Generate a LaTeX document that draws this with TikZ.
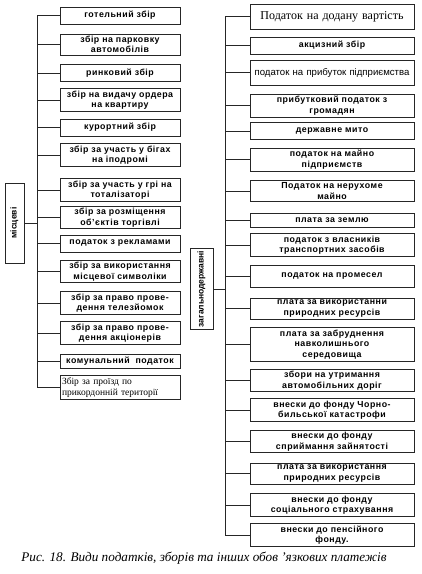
\documentclass[tikz,border=0pt]{standalone}
\usepackage{fontspec}
\setmainfont{Liberation Serif}
\setsansfont{Liberation Sans}

\begin{document}
\begin{tikzpicture}[x=1pt, y=-1pt,
  box/.style={draw=black!85, line width=0.8pt, align=center, text width=116pt, minimum width=120pt, minimum height=17pt, inner sep=2pt, font=\sffamily\bfseries\fontsize{8.8}{10.5}\selectfont\addfontfeature{LetterSpace=6}},
  rbox/.style={box, text width=160pt, minimum width=164pt},
  side/.style={draw=black!85, line width=0.8pt, rotate=90, inner sep=1pt, font=\sffamily\bfseries\fontsize{8.5}{10}\selectfont},
  link/.style={line width=0.8pt, black!85}
]
\useasboundingbox (0,0) rectangle (422,574);
\coordinate (lbus) at (37,0);
\coordinate (rbus) at (225,0);
\node[side, minimum width=80pt, minimum height=19pt] (local) at (14.5,223) {місцеві};
\node[side, minimum width=81pt, minimum height=23pt] (state) at (201.5,289) {загальнодержавні};
\node[box] (hotel) at (120,15.5) {готельний збір};
\node[box] (parking) at (120,44.5) {збір на парковку\\автомобілів};
\node[box] (market) at (120,73) {ринковий збір};
\node[box] (order) at (120,100) {збір на видачу ордера\\на квартиру};
\node[box] (resort) at (120,127.5) {курортний збір};
\node[box] (races) at (120,155) {збір за участь у бігах\\на іподромі};
\node[box] (totalizer) at (120,190) {збір за участь у грі на\\тоталізаторі};
\node[box] (trade) at (120,217.5) {збір за розміщення\\об’єктів торгівлі};
\node[box] (ads) at (120,243.5) {податок з рекламами};
\node[box] (symbols) at (120,271.5) {збір за використання\\місцевої символіки};
\node[box] (filming) at (120,303) {збір за право прове-\\дення телезйомок};
\node[box] (auctions) at (120,333) {збір за право прове-\\дення акціонерів};
\node[box, minimum height=14pt] (communal) at (120,361) {комунальний\ \ податок};
\node[box, align=left, font=\rmfamily\fontsize{9.5}{11}\selectfont] (border) at (120,387.5) {Збір за проїзд по\\прикордонній території};
\node[rbox, minimum height=25pt, font=\rmfamily\fontsize{12}{13}\selectfont] (vat) at (332,16.5) {Податок на додану вартість};
\node[rbox] (excise) at (332,45.5) {акцизний збір};
\node[rbox, minimum height=25pt, font=\sffamily\fontsize{9.6}{11}\selectfont] (profit) at (332,72.5) {податок на прибуток підприємства};
\node[rbox] (income) at (332,105.5) {прибутковий податок з\\громадян};
\node[rbox] (duty) at (332,131) {державне мито};
\node[rbox] (property) at (332,159.5) {податок на майно\\підприємств};
\node[rbox] (realty) at (332,191) {Податок на нерухоме\\майно};
\node[rbox, minimum height=14pt] (land) at (332,220) {плата за землю};
\node[rbox] (vehicles) at (332,245) {податок з власників\\транспортних засобів};
\node[rbox, minimum height=22pt] (craft) at (332,276) {податок на промесел};
\node[rbox] (resources) at (332,308.5) {плата за використанни\\природних ресурсів};
\node[rbox] (pollution) at (332,344.5) {плата за забруднення\\навколишнього\\середовища};
\node[rbox] (roads) at (332,380.5) {збори на утримання\\автомобільних доріг};
\node[rbox] (chornobyl) at (332,410) {внески до фонду Чорно-\\бильської катастрофи};
\node[rbox] (employment) at (332,441.5) {внески до фонду\\сприймання зайнятості};
\node[rbox] (nature) at (332,473.5) {плата за використання\\природних ресурсів};
\node[rbox] (social) at (332,505) {внески до фонду\\соціального страхування};
\node[rbox] (pension) at (332,535) {внески до пенсійного\\фонду.};
\node[font=\itshape\fontsize{13.2}{15}\selectfont] (caption) at (204,558) {Рис. 18. Види податків, зборів та інших обов 'язкових платежів};
\draw[link] (lbus |- hotel.west) -- (lbus |- border.west);
\draw[link] (rbus |- vat.west) -- (rbus |- pension.west);
\draw[link] (local.south) -- (local.south -| lbus);
\draw[link] (state.south) -- (state.south -| rbus);
\draw[link] (hotel.west) -- (hotel.west -| lbus);
\draw[link] (parking.west) -- (parking.west -| lbus);
\draw[link] (market.west) -- (market.west -| lbus);
\draw[link] (order.west) -- (order.west -| lbus);
\draw[link] (resort.west) -- (resort.west -| lbus);
\draw[link] (races.west) -- (races.west -| lbus);
\draw[link] (totalizer.west) -- (totalizer.west -| lbus);
\draw[link] (trade.west) -- (trade.west -| lbus);
\draw[link] (ads.west) -- (ads.west -| lbus);
\draw[link] (symbols.west) -- (symbols.west -| lbus);
\draw[link] (filming.west) -- (filming.west -| lbus);
\draw[link] (auctions.west) -- (auctions.west -| lbus);
\draw[link] (communal.west) -- (communal.west -| lbus);
\draw[link] (border.west) -- (border.west -| lbus);
\draw[link] (vat.west) -- (vat.west -| rbus);
\draw[link] (excise.west) -- (excise.west -| rbus);
\draw[link] (profit.west) -- (profit.west -| rbus);
\draw[link] (income.west) -- (income.west -| rbus);
\draw[link] (duty.west) -- (duty.west -| rbus);
\draw[link] (property.west) -- (property.west -| rbus);
\draw[link] (realty.west) -- (realty.west -| rbus);
\draw[link] (land.west) -- (land.west -| rbus);
\draw[link] (vehicles.west) -- (vehicles.west -| rbus);
\draw[link] (craft.west) -- (craft.west -| rbus);
\draw[link] (resources.west) -- (resources.west -| rbus);
\draw[link] (pollution.west) -- (pollution.west -| rbus);
\draw[link] (roads.west) -- (roads.west -| rbus);
\draw[link] (chornobyl.west) -- (chornobyl.west -| rbus);
\draw[link] (employment.west) -- (employment.west -| rbus);
\draw[link] (nature.west) -- (nature.west -| rbus);
\draw[link] (social.west) -- (social.west -| rbus);
\draw[link] (pension.west) -- (pension.west -| rbus);
\end{tikzpicture}
\end{document}
